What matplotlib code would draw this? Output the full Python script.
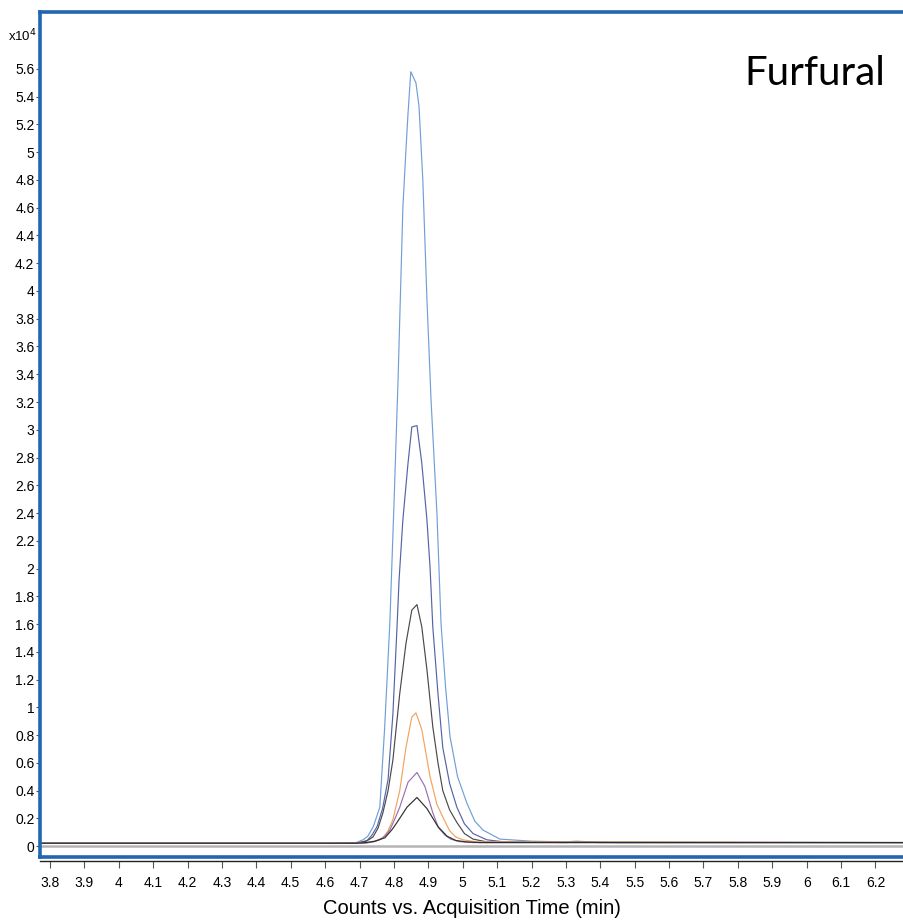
import numpy as np
import matplotlib
matplotlib.use('Agg')
import matplotlib.pyplot as plt
from matplotlib.ticker import FixedLocator, FuncFormatter

plt.rcParams['font.family'] = ['Liberation Sans', 'DejaVu Sans']

# trace data, counts in units of 1e4, time in min
tA = [3.77, 4.60, 4.69, 4.71, 4.724, 4.74, 4.759, 4.773, 4.788, 4.80, 4.812, 4.826, 4.835, 4.841,
      4.849, 4.864, 4.873, 4.884, 4.896, 4.908, 4.925, 4.937, 4.95, 4.963, 4.985, 5.012, 5.035,
      5.059, 5.108, 5.20, 5.30, 5.33, 5.37, 5.45, 6.29]
yA = [0.02, 0.02, 0.025, 0.045, 0.07, 0.14, 0.28, 0.85, 1.6, 2.45, 3.36, 4.6, 5.02, 5.28,
      5.58, 5.5, 5.33, 4.8, 3.94, 3.21, 2.4, 1.6, 1.15, 0.79, 0.5, 0.31, 0.18,
      0.115, 0.05, 0.035, 0.03, 0.035, 0.03, 0.025, 0.025]

tB = [3.77, 4.65, 4.70, 4.722, 4.735, 4.751, 4.767, 4.783, 4.797, 4.809, 4.815, 4.826, 4.841,
      4.852, 4.867, 4.881, 4.896, 4.905, 4.913, 4.928, 4.942, 4.962, 4.983, 5.005, 5.03, 5.07,
      5.12, 5.30, 5.34, 5.40, 6.29]
yB = [0.02, 0.02, 0.025, 0.04, 0.075, 0.14, 0.27, 0.48, 0.95, 1.58, 1.92, 2.35, 2.76,
      3.02, 3.03, 2.76, 2.35, 2.01, 1.58, 1.1, 0.71, 0.45, 0.28, 0.16, 0.09, 0.045,
      0.03, 0.025, 0.03, 0.025, 0.025]

tC = [3.77, 4.67, 4.70, 4.72, 4.739, 4.754, 4.768, 4.783, 4.797, 4.817, 4.835, 4.852, 4.867,
      4.881, 4.896, 4.913, 4.928, 4.942, 4.962, 4.983, 5.005, 5.03, 5.07, 6.29]
yC = [0.02, 0.02, 0.025, 0.035, 0.065, 0.13, 0.24, 0.4, 0.62, 1.10, 1.46, 1.70, 1.74,
      1.58, 1.27, 0.86, 0.6, 0.40, 0.26, 0.17, 0.09, 0.05, 0.03, 0.025]

tD = [3.77, 4.68, 4.72, 4.745, 4.768, 4.783, 4.797, 4.817, 4.835, 4.852, 4.864, 4.881, 4.905,
      4.925, 4.942, 4.962, 4.980, 5.00, 5.04, 6.29]
yD = [0.02, 0.02, 0.025, 0.035, 0.06, 0.11, 0.19, 0.40, 0.71, 0.93, 0.96, 0.84, 0.50,
      0.3, 0.21, 0.11, 0.065, 0.045, 0.03, 0.025]

tE = [3.77, 4.69, 4.72, 4.74, 4.759, 4.775, 4.788, 4.80, 4.817, 4.841, 4.867, 4.890, 4.913,
      4.930, 4.948, 4.965, 4.99, 5.03, 6.29]
yE = [0.02, 0.02, 0.022, 0.03, 0.045, 0.075, 0.115, 0.18, 0.28, 0.46, 0.53, 0.43, 0.24,
      0.13, 0.08, 0.05, 0.032, 0.025, 0.025]

tF = [3.77, 4.69, 4.72, 4.745, 4.774, 4.795, 4.809, 4.838, 4.867, 4.896, 4.928, 4.955, 4.98,
      5.01, 5.05, 6.29]
yF = [0.02, 0.02, 0.025, 0.035, 0.06, 0.12, 0.17, 0.28, 0.35, 0.27, 0.14, 0.07, 0.04,
      0.03, 0.025, 0.025]

traces = [(tA, yA, '#6f9fd6'), (tB, yB, '#5563a8'), (tC, yC, '#4a4a4a'),
          (tD, yD, '#f2a35e'), (tE, yE, '#9a6fb2'), (tF, yF, '#2e2e2e')]

xticks = np.round(np.arange(3.8, 6.25, 0.1), 1)
yticks = np.round(np.arange(0, 5.65, 0.2), 1)

fig = plt.figure(figsize=(9.04, 9.22), dpi=100)
ax = fig.add_axes([40/904, 1 - 857/922, 1 - 40/904, (857 - 12.5)/922])

blue = '#2166b0'
ax.axhline(0, color='#b4b4b4', lw=1.8, zorder=1)
for t, y, c in traces:
    ax.plot(t, y, color=c, lw=0.85, zorder=2)

ax.set_xlim(3.771, 6.283)
ax.set_ylim(-0.079, 6.007)

for s in ['left', 'top']:
    ax.spines[s].set_color(blue)
    ax.spines[s].set_linewidth(2.6)
ax.spines['right'].set_visible(False)
ax.spines['bottom'].set_color('#222222')
ax.spines['bottom'].set_linewidth(1.0)
ax.spines['bottom'].set_position(('outward', 3))
ax.plot([0, 1], [0, 0], transform=ax.transAxes, color=blue, lw=2.6, clip_on=False, zorder=5)

ax.xaxis.set_major_locator(FixedLocator(xticks))
ax.yaxis.set_major_locator(FixedLocator(yticks))
fmt = FuncFormatter(lambda v, p: '%g' % round(v, 1))
ax.xaxis.set_major_formatter(fmt)
ax.yaxis.set_major_formatter(fmt)
ax.tick_params(axis='x', length=5, width=0.8, color='#555555', labelsize=10, pad=6)
ax.tick_params(axis='y', length=3, width=0.8, color='#555555', labelsize=10, pad=1)

ax.set_xlabel('Counts vs. Acquisition Time (min)', fontsize=14.5, labelpad=6)

fig.text(8/904, 1 - 36/922, r'x10$^4$', fontsize=9.5, va='center', ha='left')
ax.text(0.978, 0.928, 'Furfural', transform=ax.transAxes, fontsize=29, ha='right',
        va='center', family=['Lato', 'DejaVu Sans'])

fig.savefig('out.png', dpi=100)
